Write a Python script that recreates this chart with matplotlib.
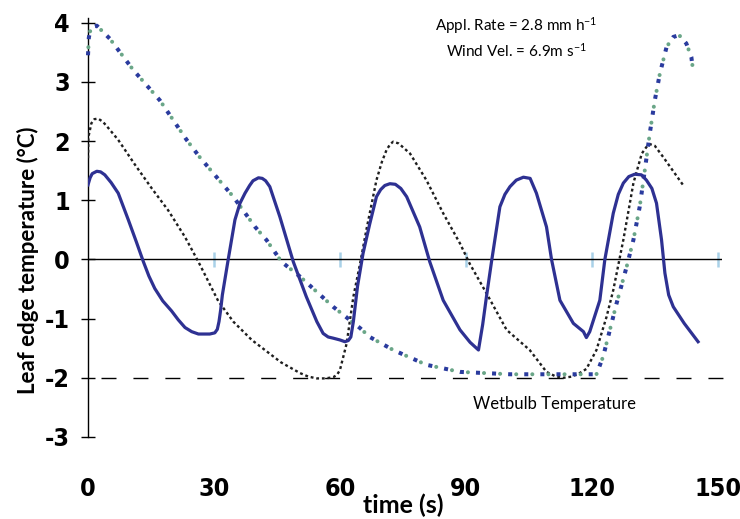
import matplotlib
matplotlib.use("Agg")
import matplotlib.pyplot as plt
from matplotlib import font_manager as fm

# solid line
solid_t = [0, 0.5, 1, 2.1, 3, 4, 5.5, 7.2, 9.6, 11.5, 13.2, 14.5, 15.9, 17.8, 19.9, 21.5, 23.1,
           24.7, 26.3, 29, 30.2, 30.8, 31.2, 31.6, 32, 33.3, 35, 36.2, 37.4, 38.5, 39.3, 40.6,
           41.5, 42.3, 43.3, 45.7, 48.9, 52, 54.5, 56, 57.2, 58.4, 60, 61.2, 62, 62.6, 63.2, 64.2,
           65.5, 67.1, 68.7, 69.7, 70.7, 71.9, 73.2, 74.5, 75.9, 79, 81.4, 84.6, 88.6, 91, 93, 94,
           94.9, 96.1, 98.1, 99.3, 100.5, 102, 103.7, 105.3, 106.8, 109.2, 110.4, 112.4, 115.6,
           118, 118.7, 119.5, 121.9, 123.1, 125.1, 126.3, 127.5, 128.8, 130.2, 131.8, 133, 134.3,
           135.4, 136.6, 137.4, 138.3, 139.4, 142, 145.3]
solid_T = [1.26, 1.38, 1.45, 1.49, 1.48, 1.43, 1.3, 1.12, 0.67, 0.3, -0.04, -0.28, -0.49, -0.7,
           -0.87, -1.02, -1.15, -1.22, -1.26, -1.26, -1.24, -1.18, -1.05, -0.85, -0.6, -0.04, 0.67,
           0.95, 1.12, 1.25, 1.33, 1.38, 1.37, 1.33, 1.23, 0.72, -0.04, -0.63, -1.05, -1.25, -1.31,
           -1.33, -1.36, -1.39, -1.37, -1.31, -1.05, -0.45, 0.1, 0.6, 1.06, 1.18, 1.25, 1.28,
           1.27, 1.2, 1.06, 0.55, -0.04, -0.69, -1.19, -1.4, -1.53, -1.1, -0.63, -0.04, 0.89, 1.1,
           1.23, 1.34, 1.39, 1.37, 1.12, 0.55, 0.0, -0.69, -1.08, -1.22, -1.32, -1.22, -0.69, 0.0,
           0.78, 1.1, 1.29, 1.4, 1.44, 1.43, 1.34, 1.2, 0.95, 0.33, -0.23, -0.6, -0.8, -1.08, -1.39]

# black dotted line
dash_t = [0, 0.1, 0.8, 1.5, 2.4, 3.5, 4.5, 7.2, 11.2, 15.2, 19.1, 23.1, 26.3, 31, 34.6, 39, 42.5,
          46, 50.5, 52.5, 54.5, 56.5, 58.4, 59.3, 60, 61.6, 63.2, 64.8, 66.3, 68.7, 70, 71.1, 72,
          72.7, 74, 76.7, 80.6, 84.6, 88.6, 90.9, 94.9, 99.7, 105.2, 109.2, 111.2, 113.2, 115.2,
          117.1, 118.7, 121.1, 123.5, 125.1, 127.5, 129.9, 131.9, 133, 133.8, 135, 137, 141.7]
dash_T = [1.71, 2.07, 2.3, 2.37, 2.38, 2.33, 2.25, 2.02, 1.6, 1.2, 0.83, 0.38, -0.04, -0.7,
          -1.05, -1.36, -1.55, -1.74, -1.92, -1.98, -2.01, -2.01, -1.99, -1.95, -1.87, -1.42,
          -0.63, -0.07, 0.5, 1.34, 1.65, 1.85, 1.95, 1.99, 1.96, 1.79, 1.34, 0.78, 0.27, -0.07,
          -0.57, -1.19, -1.53, -1.9, -1.97, -2.0, -1.98, -1.92, -1.85, -1.53, -0.97, -0.52, 0.33,
          1.29, 1.79, 1.9, 1.95, 1.92, 1.73, 1.26]

# blue/green dotted line
dot_t = [0, 0.2, 0.7, 2.1, 5.2, 10.8, 17.1, 23.5, 26.7, 34.6, 39.8, 42.5, 46.1, 50.5, 58.4, 64.8,
         67.1, 72.7, 80.6, 88.6, 100.5, 112, 121.1, 122.7, 124.3, 125.9, 128.3, 129.9, 131.4,
         132.6, 133.8, 135, 136.2, 137.8, 139.4, 140.8, 142.5, 143.7, 144.1]
dot_T = [3.45, 3.75, 3.92, 3.95, 3.73, 3.2, 2.69, 2.02, 1.72, 1.06, 0.55, 0.33, -0.04, -0.29, -0.8,
         -1.16, -1.31, -1.53, -1.78, -1.9, -1.94, -1.94, -1.94, -1.64, -1.19, -0.74, -0.12, 0.33,
         0.89, 1.5, 2.13, 2.69, 3.14, 3.59, 3.76, 3.79, 3.65, 3.42, 3.2]

wetbulb = -2
xticks = [0, 30, 60, 90, 120, 150]
yticks = [-3, -2, -1, 0, 1, 2, 3, 4]

TXT_FONT = "Lato"


def narrow_bold():
    # look for a condensed bold face for the numbers
    prefs = ["liberation sans narrow", "dejavu sans condensed", "roboto condensed",
             "open sans condensed", "noto sans condensed"]
    found = {}
    for f in fm.fontManager.ttflist:
        p = f.fname.lower()
        bold = f.weight in ("bold", 700) or "bold" in p
        if not bold or "oblique" in p or "italic" in p:
            continue
        key = (f.name + " " + str(f.stretch)).lower()
        for pr in prefs:
            if pr in key or pr.replace(" ", "") in p.replace("-", "").replace("_", ""):
                found.setdefault(pr, f.fname)
    for pr in prefs:
        if pr in found:
            return fm.FontProperties(fname=found[pr], size=18)
    return fm.FontProperties(family="DejaVu Sans", weight="bold", stretch="condensed", size=17)


plt.rcParams["mathtext.default"] = "regular"
plt.rcParams["axes.unicode_minus"] = False

fig = plt.figure(figsize=(7.4, 5.19), dpi=100)
ax = fig.add_axes([88 / 740, 82 / 519, 634 / 740, 419 / 519])

ax.plot(solid_t, solid_T, color="#2e3192", lw=2.3, solid_joinstyle="round", zorder=4)
ax.plot(dash_t, dash_T, color="#1e1e1e", lw=1.7, linestyle=(0, (1.2, 1.2)), zorder=3)
ax.plot(dot_t, dot_T, color="#2a3b9e", lw=2.9, linestyle=(0, (1, 3)),
        dash_capstyle="butt", zorder=3, clip_on=False)
ax.plot(dot_t, dot_T, color="#6aa688", lw=2.9, linestyle=(2, (0.01, 3.99)),
        dash_capstyle="round", zorder=3, clip_on=False)

# zero line and wetbulb line
ax.axhline(0, color="black", lw=1.0, zorder=2)
ax.plot([3.0, 155], [wetbulb, wetbulb], color="black", lw=1.0,
        linestyle=(0, (10.8, 12.2)), clip_on=False, zorder=2)
ax.vlines(xticks[1:], -0.12, 0.12, color="#a9d1e8", lw=1.8, zorder=1)

ax.set_xlim(0, 151)
ax.set_ylim(-3, 4.08)
for s in ["top", "right", "bottom"]:
    ax.spines[s].set_visible(False)
ax.spines["left"].set_linewidth(1.0)

ax.set_xticks(xticks)
ax.set_yticks(yticks)
ax.tick_params(axis="x", length=0, pad=29)
ax.tick_params(axis="y", direction="inout", length=10, width=1.0, pad=8)
num_fp = narrow_bold()
for lab in ax.get_xticklabels() + ax.get_yticklabels():
    lab.set_fontproperties(num_fp)

fig.text(28 / 740, 1 - 260 / 519, "Leaf edge temperature (°C)", rotation=90,
         ha="center", va="center", fontsize=16, fontweight="bold", family=TXT_FONT)
fig.text(403 / 740, 1 - 505 / 519, "time (s)", ha="center", va="center",
         fontsize=18, fontweight="bold", family=TXT_FONT)

ax.text(102, 3.95, "Appl. Rate = 2.8 mm h$^{-1}$", ha="center", va="center",
        fontsize=11, family=TXT_FONT)
ax.text(102, 3.53, "Wind Vel. = 6.9m s$^{-1}$", ha="center", va="center",
        fontsize=11, family=TXT_FONT)
ax.text(111, -2.44, "Wetbulb Temperature", ha="center", va="center",
        fontsize=12, family=TXT_FONT)

fig.savefig("out.png", dpi=100)
